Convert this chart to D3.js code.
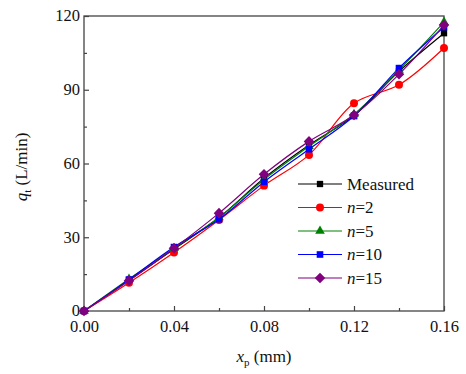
<!DOCTYPE html>
<html lang='en'>
  <head>
    <meta charset='utf-8'>
    <title>qt vs xp</title>
    <script src="https://d3js.org/d3.v7.min.js" charset='utf-8'></script>
    <style type="text/css">
      body { margin: 0; background: #fff; }
      svg { display: block; }
      svg text { font-family: 'Liberation Serif', 'Times New Roman', serif !important; fill: #111; }
    </style>
  </head>
  <body>
    <script type="text/javascript">
      // data
      var xp = [0, 0.02, 0.04, 0.06, 0.08, 0.10, 0.12, 0.14, 0.16];
      var measured = [0, 12.5, 25.2, 38, 54, 67.5, 79.5, 97.5, 113];
      var n2 = [0, 11.5, 23.8, 37, 51, 63.5, 84.5, 92, 107];
      var n5 = [0, 13, 25.5, 38, 53.5, 67, 80, 98, 117.5];
      var n10 = [0, 12.8, 26, 37.3, 52.5, 65.8, 79.3, 98.8, 115.5];
      var n15 = [0, 12.3, 25.5, 39.8, 55.6, 69, 79.7, 96.3, 116.3];
      var xTicks = [0, 0.04, 0.08, 0.12, 0.16];
      var yTicks = [0, 30, 60, 90, 120];

      // square-ish diamond, like the Origin marker
      var diamond = {
        draw: function(ctx, size) {
          var r = Math.sqrt(size / 2);
          ctx.moveTo(0, -r);
          ctx.lineTo(r, 0);
          ctx.lineTo(0, r);
          ctx.lineTo(-r, 0);
          ctx.closePath();
        }
      };

      var series = [
        {name: 'Measured', n: false, values: measured, color: '#000000', symbol: d3.symbolSquare, size: 40},
        {name: '2', n: true, values: n2, color: '#ff0000', symbol: d3.symbolCircle, size: 50},
        {name: '5', n: true, values: n5, color: '#008000', symbol: d3.symbolTriangle, size: 40},
        {name: '10', n: true, values: n10, color: '#0000ff', symbol: d3.symbolSquare, size: 44},
        {name: '15', n: true, values: n15, color: '#800080', symbol: diamond, size: 56}
      ];

      var width = 466, height = 374;
      var margin = {left: 84, right: 22, top: 16, bottom: 63};

      var svg = d3.select('body').append('svg')
        .attr('width', width)
        .attr('height', height);

      var x = d3.scaleLinear().domain([0, 0.16]).range([margin.left, width - margin.right]);
      var y = d3.scaleLinear().domain([0, 120]).range([height - margin.bottom, margin.top]);

      // frame
      svg.append('rect')
        .attr('x', x(0)).attr('y', y(120))
        .attr('width', x(0.16) - x(0)).attr('height', y(0) - y(120))
        .attr('fill', 'none').attr('stroke', '#444').attr('stroke-width', 1.3);

      // x axis (ticks inward, minor every 0.02)
      var xAxis = d3.axisBottom(x).tickValues(d3.range(0, 0.161, 0.02))
        .tickSize(-5).tickFormat(function(d) {
          return xTicks.some(function(t) { return Math.abs(t - d) < 1e-9; }) ? d3.format('.2f')(d) : '';
        });
      var gx = svg.append('g').attr('transform', 'translate(0,' + y(0) + ')').call(xAxis)
        .attr('font-family', null).attr('font-size', null);
      gx.select('.domain').remove();
      gx.selectAll('.tick line').attr('stroke', '#444').attr('stroke-width', 1.2)
        .attr('y2', function(d, i) { return i % 2 === 0 ? -5 : -3; });
      gx.selectAll('.tick text').attr('y', 9).attr('dy', '0.71em')
        .style('font-size', '16.5px').attr('fill', '#111');

      // y axis
      var yAxis = d3.axisLeft(y).tickValues(d3.range(0, 121, 15))
        .tickSize(-5).tickFormat(function(d) { return yTicks.indexOf(d) >= 0 ? d : ''; });
      var gy = svg.append('g').attr('transform', 'translate(' + x(0) + ',0)').call(yAxis)
        .attr('font-family', null).attr('font-size', null);
      gy.select('.domain').remove();
      gy.selectAll('.tick line').attr('stroke', '#444').attr('stroke-width', 1.2)
        .attr('x2', function(d, i) { return i % 2 === 0 ? 5 : 3; });
      gy.selectAll('.tick text').attr('x', -4).attr('dy', '0.3em')
        .style('font-size', '16.5px').attr('fill', '#111');

      // lines
      var line = d3.line()
        .x(function(d, i) { return x(xp[i]); })
        .y(function(d) { return y(d); })
        .curve(d3.curveCatmullRom.alpha(0.5));

      series.forEach(function(s) {
        svg.append('path')
          .attr('d', line(s.values))
          .attr('fill', 'none')
          .attr('stroke', s.color)
          .attr('stroke-width', 1.2);
      });
      series.forEach(function(s) {
        svg.append('g').selectAll('path')
          .data(s.values)
          .enter().append('path')
          .attr('transform', function(d, i) { return 'translate(' + x(xp[i]) + ',' + y(d) + ')'; })
          .attr('d', d3.symbol().type(s.symbol).size(s.size))
          .attr('fill', s.color);
      });

      // legend
      var leg = svg.append('g');
      series.forEach(function(s, i) {
        var ly = 184 + i * 23.5;
        leg.append('line').attr('x1', 298).attr('x2', 342).attr('y1', ly).attr('y2', ly)
          .attr('stroke', s.color).attr('stroke-width', 1.2);
        leg.append('path').attr('transform', 'translate(320,' + ly + ')')
          .attr('d', d3.symbol().type(s.symbol).size(s.size)).attr('fill', s.color);
        var t = leg.append('text').attr('x', 347).attr('y', ly + 5.5).style('font-size', '17px');
        if (s.n) {
          t.append('tspan').style('font-style', 'italic').text('n');
          t.append('tspan').text('=' + s.name);
        } else {
          t.text(s.name);
        }
      });

      // axis titles
      var xt = svg.append('text').attr('x', 264).attr('y', 362)
        .attr('text-anchor', 'middle').style('font-size', '17px');
      xt.append('tspan').style('font-style', 'italic').text('x');
      xt.append('tspan').attr('dy', 4).style('font-size', '11px').text('p');
      xt.append('tspan').attr('dy', -4).text(' (mm)');

      var yt = svg.append('text')
        .attr('transform', 'translate(27,167) rotate(-90)')
        .attr('text-anchor', 'middle').style('font-size', '17px');
      yt.append('tspan').style('font-style', 'italic').text('q');
      yt.append('tspan').attr('dy', 4).style('font-size', '11px').text('t');
      yt.append('tspan').attr('dy', -4).text(' (L/min)');
    </script>
  </body>
</html>
